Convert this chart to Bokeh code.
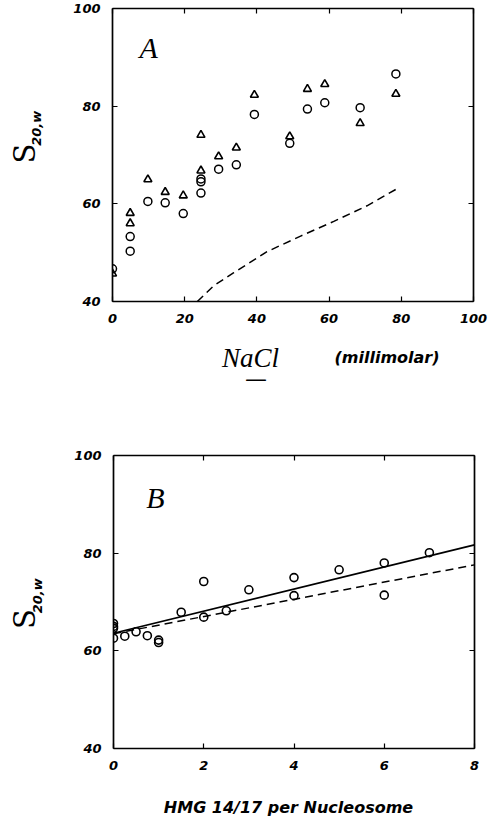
from bokeh.plotting import figure
from bokeh.models import LinearAxis, FixedTicker, Range1d, Label
from bokeh.layouts import column, row
from bokeh.embed import file_html
from bokeh.resources import INLINE

# ---- Panel A data: S20,w vs NaCl (millimolar)
a_tri_x = [0, 4.9, 4.9, 9.8, 14.6, 19.6, 24.5, 24.5, 29.4, 34.3, 39.3, 49.1, 54.0, 58.8, 68.6, 78.5]
a_tri_y = [45.7, 58.1, 56.0, 65.0, 62.4, 61.7, 74.1, 66.8, 69.7, 71.5, 82.3, 73.8, 83.5, 84.5, 76.5, 82.5]
a_circ_x = [0, 4.9, 4.9, 9.8, 14.6, 19.6, 24.5, 24.5, 24.5, 29.4, 34.3, 39.3, 49.1, 54.0, 58.8, 68.6, 78.5]
a_circ_y = [46.7, 53.3, 50.3, 60.5, 60.2, 58.0, 65.1, 64.5, 62.2, 67.1, 68.0, 78.3, 72.4, 79.4, 80.7, 79.7, 86.6]
a_dash_x = [23.5, 28, 33.6, 42.8, 52.1, 61.3, 70.5, 79.3]
a_dash_y = [40, 43.2, 45.9, 50.2, 53.4, 56.4, 59.6, 63.3]
a_xticks = [0, 20, 40, 60, 80, 100]
a_yticks = [40, 60, 80, 100]

# ---- Panel B data: S20,w vs HMG 14/17 per nucleosome
b_x = [0, 0, 0, 0, 0.25, 0.5, 0.75, 1, 1, 1.5, 2, 2, 2.5, 3, 4, 4, 5, 6, 6, 7]
b_y = [65.6, 65.0, 64.6, 62.6, 63.0, 63.9, 63.1, 62.2, 61.7, 67.9, 74.2, 66.9, 68.2, 72.5, 75.0, 71.3, 76.6, 78.0, 71.4, 80.1]
b_fit_x = [0, 8]
b_fit_y = [63.6, 81.7]
b_dash_x = [0, 8]
b_dash_y = [63.5, 77.6]
b_xticks = [0, 2, 4, 6, 8]
b_yticks = [40, 60, 80, 100]

TICK_FONT = "DejaVu Sans"
SERIF = "Liberation Serif"


def style(p, xticks, yticks):
    p.xaxis.visible = False
    p.yaxis.visible = False
    for side, ticks in (("below", xticks), ("above", xticks), ("left", yticks), ("right", yticks)):
        ax = LinearAxis(ticker=FixedTicker(ticks=ticks))
        ax.axis_line_color = "black"
        ax.axis_line_width = 1.7
        ax.major_tick_line_color = "black"
        ax.major_tick_line_width = 1.2
        ax.major_tick_in = 5
        ax.major_tick_out = 0
        ax.minor_tick_line_color = None
        if side in ("below", "left"):
            ax.major_label_text_font = TICK_FONT
            ax.major_label_text_font_style = "bold italic"
            ax.major_label_text_font_size = "13px"
            ax.major_label_text_color = "black"
            ax.major_label_standoff = 12
        else:
            ax.major_label_text_font_size = "0px"
            ax.major_label_standoff = 0
            ax.major_label_text_color = None
        p.add_layout(ax, side)
    p.grid.visible = False
    p.outline_line_color = None
    p.background_fill_color = "white"
    p.border_fill_color = "white"


def strip(w, h):
    """Blank label strip whose frame is its whole canvas (pixel coords, y down)."""
    s = figure(width=w, height=h, output_backend="svg", toolbar_location=None,
               x_range=Range1d(0, w), y_range=Range1d(h, 0),
               min_border=0, min_border_left=0, min_border_right=0,
               min_border_top=0, min_border_bottom=0)
    s.xaxis.visible = False
    s.yaxis.visible = False
    s.grid.visible = False
    s.outline_line_color = None
    s.background_fill_color = "white"
    s.border_fill_color = "white"
    return s


def lab(p, **kw):
    p.add_layout(Label(text_align="center", text_baseline="middle", text_color="black", **kw))


def ylab(s, xs, ys, xsub, ysub):
    lab(s, x=xs, y=ys, text="S", angle=1.5708, text_font="DejaVu Serif", text_font_size="29px")
    lab(s, x=xsub, y=ysub, text="20,w", angle=1.5708, text_font=TICK_FONT,
        text_font_style="bold italic", text_font_size="13px")


# ---------------- Panel A
pa = figure(width=448, height=335, output_backend="svg", toolbar_location=None,
            x_range=Range1d(0, 100), y_range=Range1d(40, 100),
            min_border_left=62, min_border_right=25, min_border_top=8, min_border_bottom=34)
style(pa, a_xticks, a_yticks)
pa.line(a_dash_x, a_dash_y, line_color="black", line_width=1.5, line_dash="8 5")
pa.scatter(a_circ_x, a_circ_y, marker="circle", size=8, fill_color=None,
           line_color="black", line_width=1.5)
pa.scatter(a_tri_x, a_tri_y, marker="triangle", size=8, fill_color=None,
           line_color="black", line_width=1.6)
lab(pa, x=10.0, y=92.0, text="A", text_font=SERIF, text_font_style="italic", text_font_size="30px")

la = strip(50, 335)
ylab(la, 24, 166, 36, 137)

sa = strip(498, 65)
lab(sa, x=250, y=22, text="NaCl", text_font=SERIF, text_font_style="italic", text_font_size="27px")
lab(sa, x=386.5, y=22, text="(millimolar)", text_font=TICK_FONT, text_font_style="bold italic",
    text_font_size="16px")
lab(sa, x=255.5, y=43, text="\u2014", text_font=TICK_FONT, text_font_size="22px")

# ---------------- Panel B
pb = figure(width=448, height=380, output_backend="svg", toolbar_location=None,
            x_range=Range1d(0, 8), y_range=Range1d(40, 100),
            min_border_left=63, min_border_right=24, min_border_top=55, min_border_bottom=32)
style(pb, b_xticks, b_yticks)
pb.line(b_dash_x, b_dash_y, line_color="black", line_width=1.5, line_dash="8 5")
pb.line(b_fit_x, b_fit_y, line_color="black", line_width=1.6)
pb.scatter(b_x, b_y, marker="circle", size=8, fill_color=None,
           line_color="black", line_width=1.6)
lab(pb, x=0.93, y=91.4, text="B", text_font=SERIF, text_font_style="italic", text_font_size="30px")

lb = strip(50, 380)
ylab(lb, 24, 212, 37, 182)

sb = strip(498, 39)
lab(sb, x=288, y=27, text="HMG 14/17 per Nucleosome", text_font=TICK_FONT,
    text_font_style="bold italic", text_font_size="16px")

layout = column(row(la, pa, spacing=0), sa, row(lb, pb, spacing=0), sb, spacing=0)
open("out.html", "w").write(file_html(layout, INLINE))
